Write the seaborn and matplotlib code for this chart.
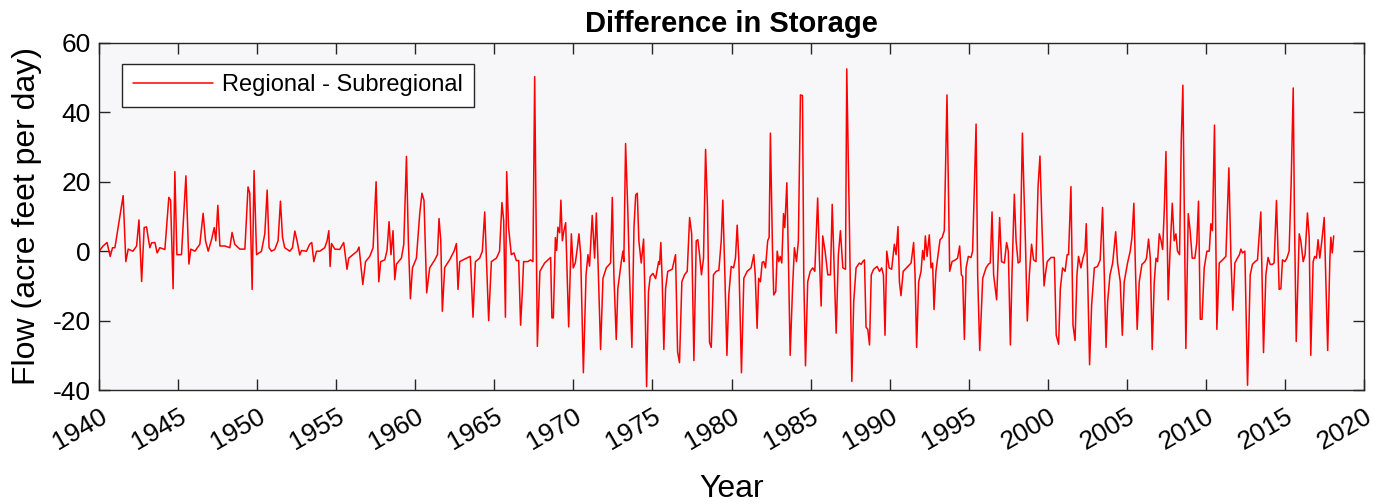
import pandas as pd
import matplotlib
matplotlib.use("Agg")
import matplotlib.pyplot as plt
import seaborn as sns

# -----------------------------------
# Data
# -----------------------------------
years = [
    1940.00, 1940.25, 1940.50, 1940.70, 1940.85, 1941.00, 1941.52, 1941.69, 1941.84, 1942.14,
    1942.37, 1942.52, 1942.69, 1942.85, 1943.00, 1943.10, 1943.21, 1943.32, 1943.53, 1943.67,
    1943.84, 1944.16, 1944.41, 1944.52, 1944.68, 1944.79, 1944.92, 1945.21, 1945.49, 1945.68,
    1945.80, 1946.06, 1946.37, 1946.58, 1946.73, 1946.90, 1947.11, 1947.28, 1947.38, 1947.51,
    1947.64, 1947.95, 1948.27, 1948.41, 1948.58, 1948.90, 1949.22, 1949.42, 1949.53, 1949.68,
    1949.80, 1949.96, 1950.27, 1950.48, 1950.63, 1950.75, 1950.90, 1951.11, 1951.32, 1951.47,
    1951.60, 1951.74, 1952.06, 1952.23, 1952.38, 1952.52, 1952.69, 1952.80, 1953.12, 1953.32,
    1953.45, 1953.58, 1953.75, 1953.96, 1954.27, 1954.42, 1954.53, 1954.61, 1954.70, 1954.91,
    1955.22, 1955.47, 1955.68, 1955.79, 1956.06, 1956.32, 1956.44, 1956.68, 1956.85, 1957.12,
    1957.33, 1957.52, 1957.69, 1957.81, 1958.07, 1958.21, 1958.34, 1958.46, 1958.59, 1958.70,
    1958.81, 1959.12, 1959.27, 1959.44, 1959.56, 1959.69, 1959.82, 1960.07, 1960.28, 1960.42,
    1960.55, 1960.72, 1960.91, 1961.23, 1961.40, 1961.50, 1961.61, 1961.71, 1961.86, 1962.17,
    1962.45, 1962.60, 1962.70, 1962.81, 1963.02, 1963.33, 1963.48, 1963.65, 1963.80, 1964.07,
    1964.24, 1964.39, 1964.49, 1964.64, 1964.81, 1965.13, 1965.33, 1965.48, 1965.59, 1965.70,
    1965.78, 1965.90, 1966.07, 1966.24, 1966.39, 1966.54, 1966.66, 1966.77, 1966.85, 1967.12,
    1967.29, 1967.44, 1967.55, 1967.72, 1967.88, 1968.18, 1968.39, 1968.56, 1968.64, 1968.73,
    1968.86, 1968.94, 1969.02, 1969.13, 1969.21, 1969.30, 1969.40, 1969.51, 1969.70, 1969.87,
    1969.99, 1970.12, 1970.25, 1970.35, 1970.46, 1970.63, 1970.80, 1970.92, 1971.02, 1971.19,
    1971.34, 1971.45, 1971.55, 1971.72, 1971.87, 1972.08, 1972.35, 1972.46, 1972.56, 1972.71,
    1972.81, 1973.03, 1973.13, 1973.19, 1973.30, 1973.44, 1973.55, 1973.70, 1973.83, 1973.94,
    1974.04, 1974.14, 1974.29, 1974.44, 1974.52, 1974.63, 1974.75, 1974.86, 1975.03, 1975.20,
    1975.39, 1975.45, 1975.53, 1975.62, 1975.72, 1975.83, 1975.97, 1976.25, 1976.46, 1976.59,
    1976.71, 1976.86, 1977.03, 1977.20, 1977.35, 1977.48, 1977.62, 1977.77, 1977.87, 1977.98,
    1978.10, 1978.23, 1978.36, 1978.48, 1978.61, 1978.72, 1978.86, 1979.03, 1979.20, 1979.35,
    1979.45, 1979.58, 1979.71, 1979.83, 1979.98, 1980.13, 1980.25, 1980.36, 1980.46, 1980.63,
    1980.78, 1980.99, 1981.24, 1981.41, 1981.50, 1981.62, 1981.72, 1981.83, 1981.94, 1982.04,
    1982.15, 1982.29, 1982.38, 1982.46, 1982.59, 1982.67, 1982.80, 1982.89, 1982.99, 1983.08,
    1983.18, 1983.29, 1983.37, 1983.50, 1983.60, 1983.71, 1983.86, 1983.98, 1984.11, 1984.23,
    1984.36, 1984.49, 1984.57, 1984.68, 1984.82, 1984.98, 1985.14, 1985.27, 1985.45, 1985.56,
    1985.67, 1985.77, 1985.92, 1986.09, 1986.26, 1986.37, 1986.51, 1986.62, 1986.76, 1986.89,
    1987.04, 1987.21, 1987.29, 1987.46, 1987.61, 1987.73, 1987.88, 1988.09, 1988.20, 1988.30,
    1988.41, 1988.51, 1988.62, 1988.73, 1988.84, 1988.99, 1989.21, 1989.36, 1989.50, 1989.61,
    1989.71, 1989.82, 1989.97, 1990.13, 1990.30, 1990.41, 1990.53, 1990.62, 1990.72, 1990.86,
    1991.15, 1991.36, 1991.52, 1991.61, 1991.71, 1991.84, 1991.99, 1992.09, 1992.18, 1992.26,
    1992.37, 1992.51, 1992.62, 1992.72, 1992.81, 1992.93, 1993.04, 1993.19, 1993.32, 1993.46,
    1993.63, 1993.80, 1993.95, 1994.16, 1994.30, 1994.43, 1994.54, 1994.62, 1994.73, 1994.84,
    1994.98, 1995.15, 1995.25, 1995.47, 1995.57, 1995.70, 1995.89, 1996.10, 1996.26, 1996.37,
    1996.48, 1996.58, 1996.77, 1996.96, 1997.08, 1997.26, 1997.40, 1997.51, 1997.64, 1997.74,
    1997.89, 1998.00, 1998.13, 1998.25, 1998.40, 1998.50, 1998.59, 1998.71, 1998.84, 1998.98,
    1999.11, 1999.26, 1999.39, 1999.51, 1999.64, 1999.77, 1999.85, 1999.97, 2000.21, 2000.42,
    2000.54, 2000.69, 2000.80, 2000.94, 2001.10, 2001.23, 2001.32, 2001.47, 2001.60, 2001.73,
    2001.85, 2001.95, 2002.10, 2002.23, 2002.36, 2002.44, 2002.52, 2002.65, 2002.78, 2002.95,
    2003.15, 2003.32, 2003.47, 2003.58, 2003.69, 2003.79, 2003.94, 2004.11, 2004.30, 2004.42,
    2004.59, 2004.72, 2004.84, 2005.05, 2005.22, 2005.33, 2005.45, 2005.56, 2005.66, 2005.79,
    2005.96, 2006.15, 2006.25, 2006.38, 2006.49, 2006.61, 2006.74, 2006.85, 2006.95, 2007.06,
    2007.17, 2007.27, 2007.38, 2007.48, 2007.62, 2007.73, 2007.88, 2008.00, 2008.11, 2008.21,
    2008.34, 2008.45, 2008.55, 2008.65, 2008.74, 2008.89, 2009.01, 2009.14, 2009.31, 2009.43,
    2009.54, 2009.65, 2009.76, 2009.90, 2010.07, 2010.22, 2010.32, 2010.42, 2010.55, 2010.70,
    2010.85, 2011.06, 2011.27, 2011.46, 2011.59, 2011.71, 2011.84, 2012.00, 2012.13, 2012.22,
    2012.32, 2012.47, 2012.64, 2012.81, 2012.95, 2013.12, 2013.27, 2013.48, 2013.65, 2013.80,
    2013.94, 2014.07, 2014.21, 2014.32, 2014.47, 2014.64, 2014.75, 2014.85, 2015.00, 2015.13,
    2015.27, 2015.40, 2015.53, 2015.61, 2015.72, 2015.91, 2016.01, 2016.16, 2016.28, 2016.43,
    2016.54, 2016.64, 2016.79, 2016.89, 2017.00, 2017.10, 2017.21, 2017.34, 2017.49, 2017.71,
    2017.85, 2017.91, 2018.00, 2018.09,
]

flow_diff = [
    0.0, 1.5, 2.5, -1.5, 1.0, 1.0, 16.0, -3.0, 0.6, 0.0,
    1.5, 9.0, -8.7, 6.8, 7.0, 4.0, 1.0, 2.4, 2.5, -0.5,
    1.0, 0.5, 15.5, 14.7, -10.8, 22.9, -1.0, -1.0, 21.7, -3.7,
    0.6, 0.0, 2.0, 10.9, 3.0, 0.0, 3.3, 6.8, 3.0, 13.2,
    1.5, 1.5, 1.0, 5.4, 2.0, 0.6, 0.6, 18.5, 16.7, -11.0,
    23.2, -1.0, 0.0, 5.0, 17.6, 1.0, 0.0, 0.5, 3.0, 14.4,
    4.0, 1.0, 0.0, 1.0, 5.8, 3.0, -1.1, 0.2, 0.0, 2.0,
    2.5, -3.0, 0.0, 0.0, 1.0, 3.0, 5.9, -4.4, 2.2, 0.6,
    0.5, 2.5, -5.2, -2.0, -1.0, 0.0, 1.2, -9.6, -3.0, -1.5,
    1.0, 20.0, -8.8, -3.0, -2.5, 0.2, 8.5, -1.0, 5.9, -8.2,
    -3.7, -2.0, 2.0, 27.3, 3.0, -13.7, -4.8, -2.0, 10.8, 16.7,
    14.6, -12.0, -4.8, -2.5, -1.0, 9.4, 3.0, -17.3, -4.7, -2.5,
    0.0, 2.2, -11.0, -3.0, -2.5, -1.8, -1.5, -19.0, -3.0, -2.0,
    0.0, 11.3, -1.0, -20.0, -3.0, -2.0, 0.0, 14.0, 8.8, -19.0,
    22.9, 6.8, -1.0, -0.5, -2.7, -2.7, -21.3, -11.6, -3.0, -3.0,
    -2.5, -3.0, 50.3, -27.4, -5.8, -3.4, -2.5, -1.8, -19.2, -19.2,
    3.9, 0.2, 6.9, 5.3, 14.7, 3.0, 5.9, 8.2, -21.8, 5.0,
    -4.8, -3.4, 1.0, 5.0, -1.0, -35.0, -6.8, -1.0, -4.3, 10.3,
    -2.0, 11.0, -2.0, -28.3, -7.8, -4.8, -3.4, 15.5, -6.8, -25.4,
    -10.8, -3.0, 0.0, -3.0, 31.0, 11.8, -6.8, -27.7, 6.8, 16.2,
    16.7, 3.0, -3.4, 3.5, -11.6, -39.0, -11.6, -7.3, -6.4, -7.9,
    -3.0, -3.8, 2.5, -8.8, -28.3, -10.8, -5.8, -5.2, -1.0, -29.0,
    -32.1, -8.8, -6.8, -5.8, 9.7, 5.0, -31.5, 3.0, 3.3, -1.0,
    -6.8, -2.0, 29.3, 12.6, -26.3, -27.7, -6.8, -5.8, -5.5, 3.0,
    14.7, -6.8, -30.0, -12.6, -4.4, -4.8, -2.0, 7.5, -2.0, -35.0,
    -7.8, -5.8, -4.8, -1.0, -6.8, -22.2, -7.8, -8.8, -3.2, -3.0,
    -4.8, 3.0, 4.0, 34.0, 1.0, -12.6, -11.6, 0.0, -3.0, -1.5,
    -3.4, 10.8, 6.8, 19.7, -2.0, -30.0, -10.8, 1.0, -3.0, 3.0,
    45.0, 44.8, -6.8, -33.0, -8.8, -5.8, -4.8, -5.8, 15.3, -2.0,
    -15.8, 4.4, 0.0, -6.8, -6.8, 13.5, -6.8, -23.6, -1.0, 5.9,
    -4.8, -5.2, 52.5, 6.8, -37.5, -14.6, -4.8, -3.4, -3.8, -3.0,
    -2.5, -21.9, -22.5, -27.0, -6.8, -5.2, -4.4, -5.8, -4.8, -6.8,
    -24.2, 0.0, -4.8, -5.2, 2.0, -1.0, 7.1, -8.8, -12.8, -5.8,
    -4.4, -3.4, 2.5, -6.8, -27.7, -8.8, -5.8, 0.2, -2.5, 4.4,
    -1.5, 4.7, -4.8, -3.4, -16.8, -5.8, -2.0, 3.3, 3.9, 5.9,
    45.0, -5.8, -3.0, -2.5, -2.0, 1.5, -6.8, -7.3, -25.4, -4.8,
    -1.5, -1.8, 0.0, 36.6, -6.8, -28.6, -7.8, -4.8, -3.7, -3.4,
    11.3, -6.8, -14.0, 9.7, -3.0, -3.4, 2.5, 0.0, -27.0, -6.8,
    16.4, 3.0, -3.4, -3.0, 34.0, 17.0, 3.0, -20.1, -6.8, 2.0,
    -2.5, -3.0, 18.6, 27.4, 6.8, -10.0, -6.8, -3.0, -1.8, -1.8,
    -24.2, -26.8, -10.8, -4.8, -5.8, -1.0, -1.0, 18.6, -21.3, -25.7,
    -6.8, -1.5, -4.8, -2.0, 0.0, 7.9, -5.8, -32.7, -15.4, -4.8,
    -4.4, -2.5, 12.6, -6.8, -27.7, -14.6, -6.8, -3.4, 5.6, -3.4,
    -8.8, -24.2, -8.8, -3.4, 0.0, 4.0, 13.8, -6.8, -22.5, -8.8,
    -3.8, -3.0, -2.0, 3.5, -2.0, -28.3, -8.8, -2.0, -3.0, 5.0,
    3.0, 0.5, 12.6, 28.7, -14.0, -1.0, 13.8, 3.0, 5.0, 0.0,
    -1.0, 32.2, 47.8, 7.9, -28.0, 10.8, 5.9, -2.0, -2.0, 2.5,
    14.4, -19.6, -19.6, -4.8, 0.0, 0.0, 7.9, 5.9, 36.3, -22.5,
    -3.4, -2.5, -1.5, 24.0, -2.0, -17.0, -3.4, -2.0, -1.0, 0.6,
    -0.5, 0.0, -38.6, -6.8, -3.8, -3.0, -2.5, 11.3, -29.2, -6.8,
    -1.8, -3.8, -3.8, -3.4, 14.6, -11.0, -10.8, -2.5, -3.0, -2.0,
    0.0, 19.7, 47.0, 8.8, -26.0, 5.0, 3.0, -3.0, -1.0, 11.0,
    4.0, -30.0, -3.0, -1.5, -2.0, 3.3, -2.0, 3.0, 9.7, -28.6,
    -2.0, 4.0, -0.5, 4.4,
]

year_ticks = list(range(1940, 2021, 5))
flow_ticks = [-40, -20, 0, 20, 40, 60]

df = pd.DataFrame({"Year": years, "Flow": flow_diff})

# -----------------------------------
# Style
# -----------------------------------
sns.set_style("ticks")
plt.rcParams["font.family"] = ["Liberation Sans", "DejaVu Sans"]
plt.rcParams["axes.unicode_minus"] = False
plt.rcParams["text.color"] = "black"
plt.rcParams["axes.labelcolor"] = "black"
plt.rcParams["xtick.labelcolor"] = "black"
plt.rcParams["ytick.labelcolor"] = "black"

fig = plt.figure(figsize=(13.96, 5.04), dpi=100)
ax = fig.add_axes([0.071, 0.226, 0.906, 0.689])
ax.set_facecolor("#F7F7FA")

sns.lineplot(data=df, x="Year", y="Flow", ax=ax, color="#FF0000",
             linewidth=1.1, estimator=None, sort=False,
             label="Regional - Subregional")

ax.set_xlim(1940, 2020)
ax.set_ylim(-40, 60)
ax.set_xticks(year_ticks)
ax.set_yticks(flow_ticks)
ax.set_xticklabels([str(y) for y in year_ticks], rotation=30,
                   ha="right", rotation_mode="anchor")
ax.tick_params(axis="both", direction="in", length=8, width=1,
               labelsize=19, color="#262626", top=True, right=True)
ax.tick_params(axis="x", pad=10)
ax.tick_params(axis="y", pad=6)

for side in ["top", "bottom", "left", "right"]:
    ax.spines[side].set_visible(True)
    ax.spines[side].set_color("#262626")
    ax.spines[side].set_linewidth(1.0)

ax.set_title("Difference in Storage", fontsize=21, fontweight="bold", pad=8)
ax.set_xlabel("Year", fontsize=23, labelpad=14)
ax.set_ylabel("Flow (acre feet per day)", fontsize=23, labelpad=8)

leg = ax.legend(loc="upper left", bbox_to_anchor=(0.018, 0.94),
                borderaxespad=0, fontsize=17, handlelength=3.4,
                handletextpad=0.4, frameon=True, fancybox=False,
                framealpha=1, edgecolor="#262626", borderpad=0.45)
leg.get_frame().set_linewidth(1.0)

fig.savefig("out.png", dpi=100, facecolor="white")
plt.close(fig)
